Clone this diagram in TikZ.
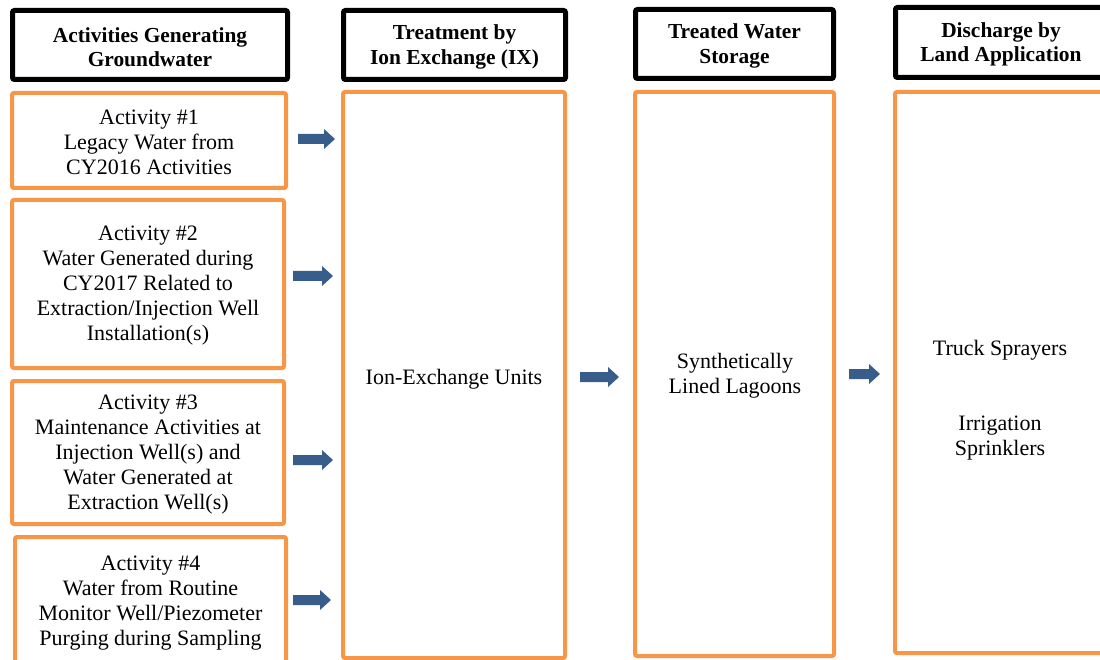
\documentclass[tikz,border=0pt]{standalone}
\usepackage{fontspec}
\setmainfont{Liberation Serif}
\definecolor{boxorange}{HTML}{F79646}
\definecolor{arrowblue}{HTML}{385D8A}
\newcommand{\blockarrow}[4]{% name, x1, x2, y
  \fill[arrowblue] (#2,#4-5) -- (#3-11,#4-5) -- (#3-11,#4-10) -- (#3,#4) -- (#3-11,#4+10) -- (#3-11,#4+5) -- (#2,#4+5) -- cycle;
  \coordinate (#1) at ({(#2+#3)/2},#4);}
\begin{document}
\begin{tikzpicture}[x=1pt,y=-1pt,
  hbox/.style={draw=black, line width=5pt, rounded corners=2pt, fill=white, anchor=north west, outer sep=0pt,
    inner sep=0pt, label={[htxt]center:{#1}}},
  htxt/.style={align=center, inner sep=0pt, yshift=-2pt, font=\fontsize{21.4}{24.5}\selectfont\bfseries},
  obox/.style={draw=boxorange, line width=4pt, rounded corners=2pt, fill=white, anchor=north west, outer sep=0pt,
    inner sep=0pt, label={[otxt]center:{#1}}},
  otxt/.style={align=center, inner sep=0pt, yshift=-2pt, font=\fontsize{22}{25}\selectfont},
  lbl/.style={align=center, inner sep=0pt, font=\fontsize{22}{25}\selectfont}
]
\useasboundingbox (0,0) rectangle (1100,660);
\clip (0,0) rectangle (1100,660);
% headers
\node[hbox={Activities Generating\\Groundwater}, minimum width=275pt, minimum height=69pt] (h1) at (12.5,10.5) {};
\node[hbox={Treatment by\\Ion Exchange (IX)}, minimum width=222pt, minimum height=69pt] (h2) at (343.5,10.5) {};
\node[hbox={Treated Water\\Storage}, minimum width=198pt, minimum height=69pt] (h3) at (635.5,9.5) {};
\node[hbox={Discharge by\\Land Application}, minimum width=211pt, minimum height=70pt] (h4) at (895.5,7.5) {};
% activity boxes
\node[obox={Activity \#1\\Legacy Water from\\CY2016 Activities}, minimum width=274pt, minimum height=95pt] (a1) at (12,93) {};
\node[obox={Activity \#2\\Water Generated during\\CY2017 Related to\\Extraction/Injection Well\\Installation(s)}, minimum width=272pt, minimum height=168pt] (a2) at (12,200) {};
\node[obox={Activity \#3\\Maintenance Activities at\\Injection Well(s) and\\Water Generated at\\Extraction Well(s)}, minimum width=272pt, minimum height=143pt] (a3) at (12,381) {};
\node[obox={Activity \#4\\Water from Routine\\Monitor Well/Piezometer\\Purging during Sampling}, minimum width=271pt, minimum height=128pt] (a4) at (15,537) {};
% process boxes
\node[obox={}, minimum width=222pt, minimum height=566pt] (ix) at (343,92) {};
\node[lbl] (ixt) at (454,379) {Ion-Exchange Units};
\node[obox={}, minimum width=199pt, minimum height=564pt] (lag) at (635,92) {};
\node[lbl] (lagt) at (735,376) {Synthetically\\Lined Lagoons};
\node[obox={}, minimum width=212pt, minimum height=561pt] (dis) at (895,92) {};
\node[lbl] (truck) at (1000,350) {Truck Sprayers};
\node[lbl] (irr) at (1000,438) {Irrigation\\Sprinklers};
% arrows
\blockarrow{ar1}{298}{335}{139}
\blockarrow{ar2}{293}{333}{276}
\blockarrow{ar3}{293}{333}{460}
\blockarrow{ar4}{293}{331}{600}
\blockarrow{ar5}{580}{619}{377}
\blockarrow{ar6}{849}{880}{374}
\end{tikzpicture}
\end{document}
